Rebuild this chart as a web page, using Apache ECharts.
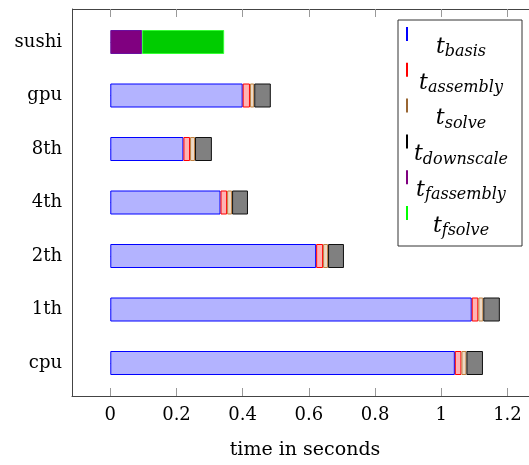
<!DOCTYPE html>
<html><head><meta charset="utf-8">
<script src="https://cdn.jsdelivr.net/npm/echarts@6/dist/echarts.min.js"></script>
<style>html,body{margin:0;padding:0;background:#fff}#c{width:529px;height:465px}</style>
</head><body><div id="c"></div>
<script>
const categories = ['cpu', '1th', '2th', '4th', '8th', 'gpu', 'sushi'];
const tBasis      = [1.041, 1.092, 0.622, 0.333, 0.221, 0.400, '-'];
const tAssembly   = [0.020, 0.020, 0.021, 0.020, 0.020, 0.022, '-'];
const tSolve      = [0.015, 0.015, 0.015, 0.015, 0.015, 0.013, '-'];
const tDownscale  = [0.050, 0.050, 0.048, 0.048, 0.051, 0.050, '-'];
const tFassembly  = ['-', '-', '-', '-', '-', '-', 0.096];
const tFsolve     = ['-', '-', '-', '-', '-', '-', 0.248];
const xTicks = [0, 0.2, 0.4, 0.6, 0.8, 1, 1.2];
const seriesNames = ['t_basis', 't_assembly', 't_solve', 't_downscale', 't_fassembly', 't_fsolve'];

const SERIF = 'DejaVu Serif';
const XMIN = -0.1157, XMAX = 1.2923;

const styles = [
  {fill: '#b3b3ff', border: '#0000ff', legend: '#0000ff'},
  {fill: '#ffb3b3', border: '#ff0000', legend: '#ff0000'},
  {fill: '#ecd9c6', border: '#bf8040', legend: '#996633'},
  {fill: '#808080', border: '#111111', legend: '#000000'},
  {fill: '#800080', border: '#6a10a0', legend: '#800080'},
  {fill: '#00cc00', border: '#33ff33', legend: '#00ff00'}
];
const dataSets = [tBasis, tAssembly, tSolve, tDownscale, tFassembly, tFsolve];

const chart = echarts.init(document.getElementById('c'), null, {renderer: 'canvas'});
const tickStyle = {color: '#999', width: 1, type: 'solid'};
const frameStyle = {color: '#444', width: 1, type: 'solid'};
const TOP_TICK = 1 - 8 / 387;

const barSeries = seriesNames.map((n, i) => ({
  name: n, type: 'bar', stack: 'all', xAxisIndex: 1, yAxisIndex: 1,
  barWidth: 24, data: dataSets[i],
  itemStyle: {color: styles[i].fill, borderColor: styles[i].border, borderWidth: 1},
  emphasis: {disabled: true}
}));

const frameSeries = {
  name: 'frame', type: 'scatter', xAxisIndex: 0, yAxisIndex: 0, data: [], clip: false,
  silent: true,
  markLine: {
    silent: true, symbol: ['none', 'none'], label: {show: false}, animation: false,
    emphasis: {disabled: true},
    lineStyle: frameStyle,
    data: [{yAxis: 1, lineStyle: frameStyle}].concat(
      xTicks.map(v => [{coord: [v, 1], lineStyle: tickStyle}, {coord: [v, TOP_TICK]}])
    )
  }
};

chart.setOption({
  animation: false,
  backgroundColor: '#fff',
  grid: [
    {left: 72, top: 9, width: 466, height: 387, outerBoundsMode: 'none', containLabel: false, show: false},
    {left: 72, top: 15.25, width: 466, height: 374.5, outerBoundsMode: 'none', containLabel: false, show: false}
  ],
  xAxis: [
    {gridIndex: 0, type: 'value', position: 'bottom', min: XMIN, max: XMAX,
     splitLine: {show: false}, axisLine: {show: true, onZero: false, lineStyle: frameStyle},
     axisTick: {show: true, inside: true, length: 8, customValues: xTicks, lineStyle: tickStyle},
     axisLabel: {customValues: xTicks, margin: 10, fontFamily: SERIF, fontSize: 18, color: '#000'},
     name: 'time in seconds', nameLocation: 'middle', nameGap: 45,
     nameTextStyle: {fontFamily: SERIF, fontSize: 19, color: '#000'}},
    {gridIndex: 1, type: 'value', min: XMIN, max: XMAX, show: false}
  ],
  yAxis: [
    {gridIndex: 0, type: 'value', position: 'left', min: 0, max: 1,
     axisLine: {show: true, onZero: false, lineStyle: frameStyle}, axisTick: {show: false}, axisLabel: {show: false}, splitLine: {show: false}},
    {gridIndex: 1, type: 'category', data: categories, position: 'left',
     axisLine: {show: false}, splitLine: {show: false},
     axisTick: {show: true, inside: true, alignWithLabel: true, length: 8, lineStyle: tickStyle},
     axisLabel: {margin: 10, fontFamily: SERIF, fontSize: 18, color: '#000'}}
  ],
  legend: {
    orient: 'vertical', left: 398, top: 20,
    itemWidth: 2, itemHeight: 40, itemGap: -4.2,
    padding: [7, 14, 0, 8],
    borderColor: '#333', borderWidth: 1,
    selectedMode: false,
    icon: 'path://M0,0L2,0L2,14L0,14Z M0,40L2,40Z',
    data: seriesNames.map((n, i) => ({name: n, itemStyle: {color: styles[i].legend, borderWidth: 0}})),
    formatter: function (name) { return '{t|t}{s|' + name.slice(2) + '}'; },
    textStyle: {
      width: 96, color: '#000',
      rich: {
        t: {fontFamily: SERIF, fontStyle: 'italic', fontSize: 22, lineHeight: 26, verticalAlign: 'middle', align: 'center', color: '#000'},
        s: {fontFamily: SERIF, fontStyle: 'italic', fontSize: 16, lineHeight: 12, verticalAlign: 'bottom', align: 'center', color: '#000'}
      }
    }
  },
  series: barSeries.concat([frameSeries])
});
</script></body></html>
